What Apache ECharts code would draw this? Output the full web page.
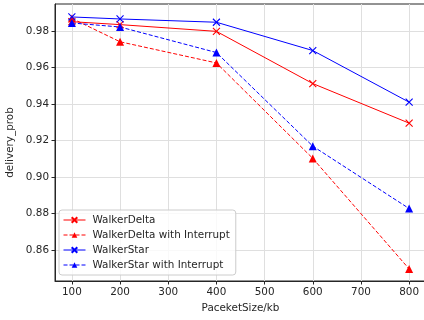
<!DOCTYPE html>
<html><head><meta charset="utf-8">
<script src="https://cdn.jsdelivr.net/npm/echarts@6/dist/echarts.min.js"></script>
<style>html,body{margin:0;padding:0;background:#fff}#c{width:424px;height:320px}</style>
</head><body><div id="c"></div>
<script>
const packetSizes = [100, 200, 400, 600, 800];
const walkerDelta = [0.9852, 0.9836, 0.9799, 0.9513, 0.9296];
const walkerDeltaInterrupt = [0.9870, 0.9742, 0.9626, 0.9103, 0.8497];
const walkerStar = [0.9878, 0.9867, 0.9849, 0.9694, 0.9411];
const walkerStarInterrupt = [0.9845, 0.9823, 0.9683, 0.9170, 0.8828];
const xTicks = [100, 200, 300, 400, 500, 600, 700, 800];
const yTicks = [0.86, 0.88, 0.90, 0.92, 0.94, 0.96, 0.98];

const X_PATH = 'path://M0,0 L10,10 M10,0 L0,10';
const font = 'DejaVu Sans';
const fs = 10.4;
function mk(name, data, color, dashed, tri) {
  return {
    name, type: 'line',
    data: packetSizes.map((x, i) => [x, data[i]]),
    symbol: tri ? 'triangle' : X_PATH,
    symbolSize: tri ? 8 : 7,
    lineStyle: { color, width: 1, type: dashed ? [4, 2] : 'solid' },
    itemStyle: { color: tri ? color : 'rgba(0,0,0,0)', borderColor: color, borderWidth: tri ? 0 : 1.1 },
    emphasis: { disabled: true },
    animation: false
  };
}
const chart = echarts.init(document.getElementById('c'));
chart.setOption({
  animation: false,
  grid: { left: 55, top: 4, width: 371, height: 277, outerBoundsMode: 'none', containLabel: false,
          show: true, borderColor: '#262626', borderWidth: 1, backgroundColor: 'transparent' },
  xAxis: {
    type: 'value', min: 65, max: 835,
    name: 'PaceketSize/kb', nameLocation: 'middle', nameGap: 22,
    nameTextStyle: { fontFamily: font, fontSize: fs, color: '#262626' },
    axisLine: { show: true, lineStyle: { color: '#262626' } },
    axisTick: { show: true, customValues: xTicks, length: 3.5, lineStyle: { color: '#262626' } },
    axisLabel: { customValues: xTicks, fontFamily: font, fontSize: fs, color: '#262626', margin: 6 },
    splitLine: { show: true, customValues: xTicks, lineStyle: { color: '#dfdfdf', width: 1 } }
  },
  yAxis: {
    type: 'value', min: 0.8431, max: 0.9949,
    name: 'delivery_prob', nameLocation: 'middle', nameGap: 38,
    nameTextStyle: { fontFamily: font, fontSize: fs, color: '#262626' },
    axisLine: { show: true, lineStyle: { color: '#262626' } },
    axisTick: { show: true, customValues: yTicks, length: 3.5, lineStyle: { color: '#262626' } },
    axisLabel: { customValues: yTicks, fontFamily: font, fontSize: fs, color: '#262626', margin: 6, formatter: v => v.toFixed(2) },
    splitLine: { show: true, customValues: yTicks, lineStyle: { color: '#dfdfdf', width: 1 } }
  },
  legend: {
    left: 59, top: 210, orient: 'vertical', itemGap: 5,
    itemWidth: 22, itemHeight: 7,
    padding: [5, 6, 5, 4],
    lineStyle: { width: 1 },
    backgroundColor: 'rgba(255,255,255,0.8)', borderColor: '#cccccc', borderWidth: 1, borderRadius: 3,
    textStyle: { fontFamily: font, fontSize: fs, color: '#262626', padding: [0, 0, 0, 2] },
    data: ['WalkerDelta', 'WalkerDelta with Interrupt', 'WalkerStar', 'WalkerStar with Interrupt']
  },
  series: [
    mk('WalkerDelta', walkerDelta, '#ff0000', false, false),
    mk('WalkerDelta with Interrupt', walkerDeltaInterrupt, '#ff0000', true, true),
    mk('WalkerStar', walkerStar, '#0000ff', false, false),
    mk('WalkerStar with Interrupt', walkerStarInterrupt, '#0000ff', true, true)
  ]
});
</script></body></html>
